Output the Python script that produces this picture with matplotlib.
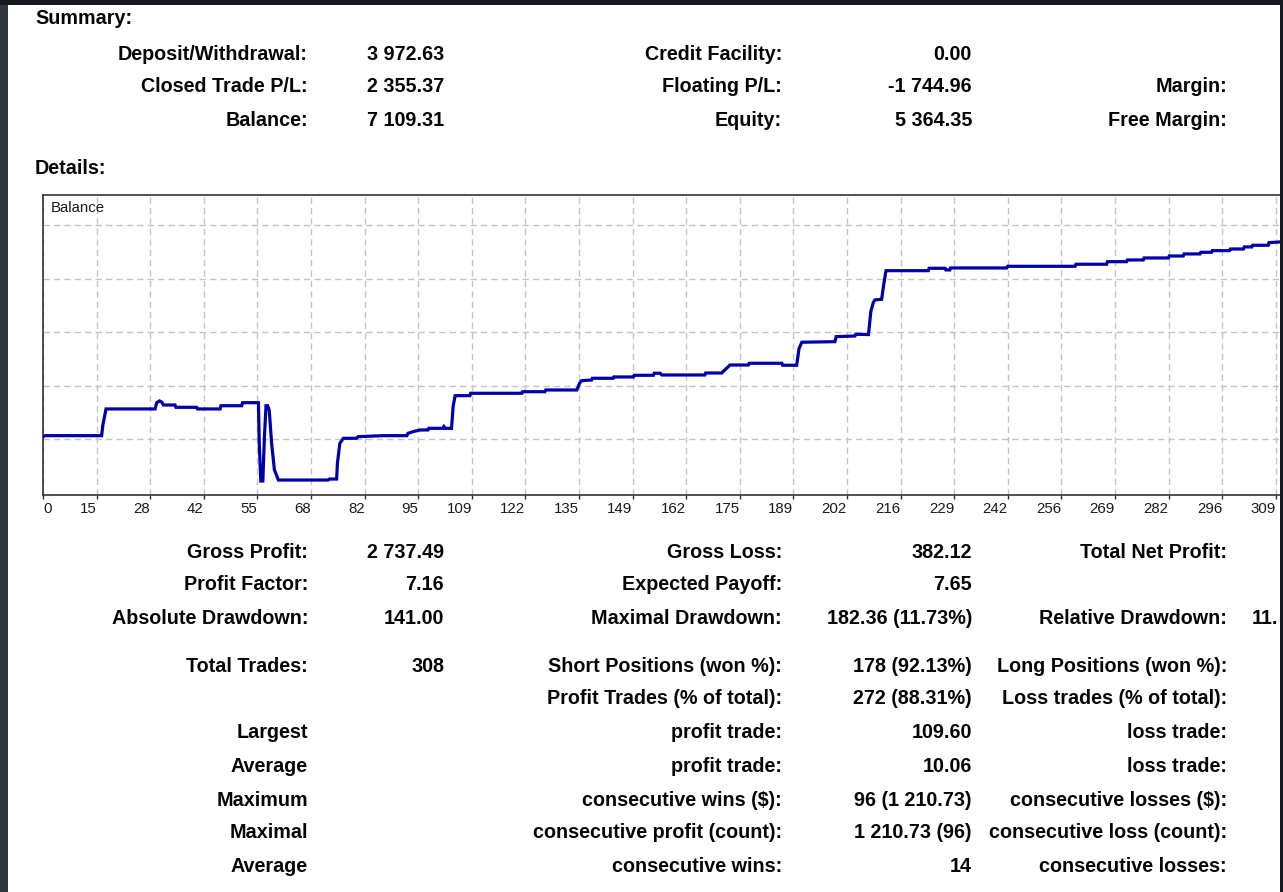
import numpy as np
import matplotlib.pyplot as plt
from matplotlib.patches import Rectangle

# balance curve (trade number, balance)
trade_no = [0, 0.5, 14.7, 15.0, 15.8, 28.1, 28.5, 29.2, 29.8, 30.2, 33.1, 33.3, 38.5, 38.7,
            44.4, 44.6, 49.8, 50.0, 54.0, 54.2, 54.6, 55.1, 55.5, 55.9, 56.3, 56.7, 57.3,
            58.0, 59.0, 71.5, 71.8, 73.6, 73.8, 74.4, 75.3, 78.6, 79.0, 85.3, 91.2, 91.5,
            92.7, 94.5, 96.5, 96.7, 100.3, 100.5, 100.8, 102.4, 102.8, 103.3, 107.0, 107.2,
            120.0, 120.2, 125.8, 126.0, 133.8, 134.5, 135.0, 137.5, 137.7, 142.9, 143.1,
            148.0, 148.2, 153.0, 153.2, 154.7, 155.1, 165.9, 166.1, 170.1, 172.2, 176.8,
            177.0, 185.2, 185.4, 188.9, 189.5, 190.2, 198.5, 198.8, 203.5, 203.7, 206.9,
            207.5, 208.1, 208.5, 210.2, 210.8, 211.3, 221.9, 222.1, 226.1, 226.3, 227.3,
            227.5, 241.6, 241.8, 258.7, 258.9, 266.6, 266.8, 271.6, 271.8, 275.8, 276.0,
            282.1, 282.3, 285.8, 286.0, 290.0, 290.2, 292.9, 293.1, 297.4, 297.6, 300.9,
            301.1, 303.0, 303.2, 307.1, 307.3, 310.6]
balance = [4731, 4744, 4744, 4873, 5068, 5068, 5144, 5165, 5150, 5116, 5116, 5088, 5088, 5068,
           5068, 5107, 5107, 5144, 5144, 4652, 4194, 4194, 4730, 5107, 5107, 5055, 4652,
           4330, 4206, 4206, 4218, 4218, 4409, 4652, 4712, 4712, 4732, 4744, 4744, 4773,
           4792, 4813, 4813, 4833, 4833, 4853, 4833, 4833, 5100, 5229, 5229, 5258,
           5258, 5277, 5277, 5298, 5298, 5380, 5411, 5419, 5440, 5440, 5456,
           5456, 5476, 5476, 5501, 5501, 5480, 5480, 5504, 5504, 5601, 5601,
           5622, 5622, 5598, 5598, 5800, 5877, 5884, 5945, 5953, 5974, 5970,
           6250, 6357, 6390, 6398, 6600, 6745, 6745, 6774, 6774, 6754, 6754,
           6778, 6778, 6798, 6798, 6823, 6823, 6854, 6854, 6875, 6875, 6899,
           6899, 6923, 6923, 6948, 6948, 6968, 6968, 6988, 6988, 7008, 7008,
           7033, 7033, 7053, 7053, 7085, 7095]

tick_labels = ['0', '15', '28', '42', '55', '68', '82', '95', '109', '122', '135', '149',
               '162', '175', '189', '202', '216', '229', '242', '256', '269', '282', '296', '309']
grid_levels = [4700, 5350, 6000, 6650, 7300]

summary_labels_1 = ['Deposit/Withdrawal:', 'Closed Trade P/L:', 'Balance:']
summary_values_1 = ['3 972.63', '2 355.37', '7 109.31']
summary_labels_2 = ['Credit Facility:', 'Floating P/L:', 'Equity:']
summary_values_2 = ['0.00', '-1 744.96', '5 364.35']
summary_labels_3 = ['', 'Margin:', 'Free Margin:']

detail_labels_1 = ['Gross Profit:', 'Profit Factor:', 'Absolute Drawdown:', 'Total Trades:', '',
                   'Largest', 'Average', 'Maximum', 'Maximal', 'Average']
detail_values_1 = ['2 737.49', '7.16', '141.00', '308', '', '', '', '', '', '']
detail_labels_2 = ['Gross Loss:', 'Expected Payoff:', 'Maximal Drawdown:', 'Short Positions (won %):',
                   'Profit Trades (% of total):', 'profit trade:', 'profit trade:',
                   'consecutive wins ($):', 'consecutive profit (count):', 'consecutive wins:']
detail_values_2 = ['382.12', '7.65', '182.36 (11.73%)', '178 (92.13%)', '272 (88.31%)', '109.60',
                   '10.06', '96 (1 210.73)', '1 210.73 (96)', '14']
detail_labels_3 = ['Total Net Profit:', '', 'Relative Drawdown:', 'Long Positions (won %):',
                   'Loss trades (% of total):', 'loss trade:', 'loss trade:',
                   'consecutive losses ($):', 'consecutive loss (count):', 'consecutive losses:']
detail_values_3 = ['', '', '11.', '', '', '', '', '', '', '']

W, H = 1283, 892
FONT = 'Liberation Sans'

fig = plt.figure(figsize=(W / 100, H / 100), dpi=100, facecolor='#16191d')
fig.patches.append(Rectangle((0, 0), 8 / W, 1, transform=fig.transFigure,
                             facecolor='#30363c', zorder=-2))
fig.patches.append(Rectangle((8 / W, 0), (1280 - 8) / W, 1 - 5 / H, transform=fig.transFigure,
                             facecolor='white', zorder=-2))


def put(x, y, s, ha='right', bold=True, size=14.2):
    fig.text(x / W, 1 - (y + 2) / H, s, ha=ha, va='center', family=FONT,
             fontweight='bold' if bold else 'normal', fontsize=size, color='#050505')


put(35, 17, 'Summary:', ha='left')
put(35, 167, 'Details:', ha='left')

rows_top = [52, 85, 119]
for i, y in enumerate(rows_top):
    put(308, y, summary_labels_1[i])
    put(444, y, summary_values_1[i])
    put(782, y, summary_labels_2[i])
    put(972, y, summary_values_2[i])
    put(1227, y, summary_labels_3[i])

rows_bottom = [550, 583, 617, 664, 697, 731, 764, 798, 831, 865]
for i, y in enumerate(rows_bottom):
    put(308, y, detail_labels_1[i])
    put(444, y, detail_values_1[i])
    put(782, y, detail_labels_2[i])
    put(972, y, detail_values_2[i])
    put(1227, y, detail_labels_3[i])
    put(1252, y, detail_values_3[i], ha='left')

# chart axes (right edge runs off the screenshot)
px_per_unit = 53.6 / (309 / 23)
left, right, top, bottom = 43, 1290, 195, 495
ax = fig.add_axes([left / W, 1 - bottom / H, (right - left) / W, (bottom - top) / H])
ax.set_facecolor('white')
ax.set_xlim(0, (right - left) / px_per_unit)
ax.set_ylim(4024.4, 7662.7)

ticks = [k * 309 / 23 for k in range(len(tick_labels))]
ax.set_xticks(ticks)
ax.set_xticklabels(tick_labels, family=FONT, fontsize=10.8, color='#1a1a1a')
for k, lbl in enumerate(ax.get_xticklabels()):
    lbl.set_ha('left' if k == 0 else 'right')
ax.set_yticks(grid_levels)
ax.set_yticklabels([])
ax.tick_params(axis='y', length=0)
ax.tick_params(axis='x', direction='out', length=3, width=1, color='#303030', pad=2)
ax.grid(True, color='#c4c4c4', linestyle=(0, (4.5, 3)), linewidth=1)

for side in ['left', 'top', 'bottom']:
    ax.spines[side].set_color('#333333')
    ax.spines[side].set_linewidth(1.2)
ax.spines['right'].set_visible(False)

ax.plot(trade_no, balance, color='#0000aa', linewidth=2.3, solid_joinstyle='miter', zorder=3)
ax.text(0.006, 0.955, 'Balance', transform=ax.transAxes, ha='left', va='center',
        family=FONT, fontsize=10.8, color='#1a1a1a')

fig.patches.append(Rectangle((1280 / W, 0), 3 / W, 1, transform=fig.transFigure,
                             facecolor='#16191d', zorder=10))
fig.patches.append(Rectangle((0, 1 - 5 / H), 1, 5 / H, transform=fig.transFigure,
                             facecolor='#16191d', zorder=10))

fig.savefig('out.png', dpi=100, facecolor=fig.get_facecolor())
